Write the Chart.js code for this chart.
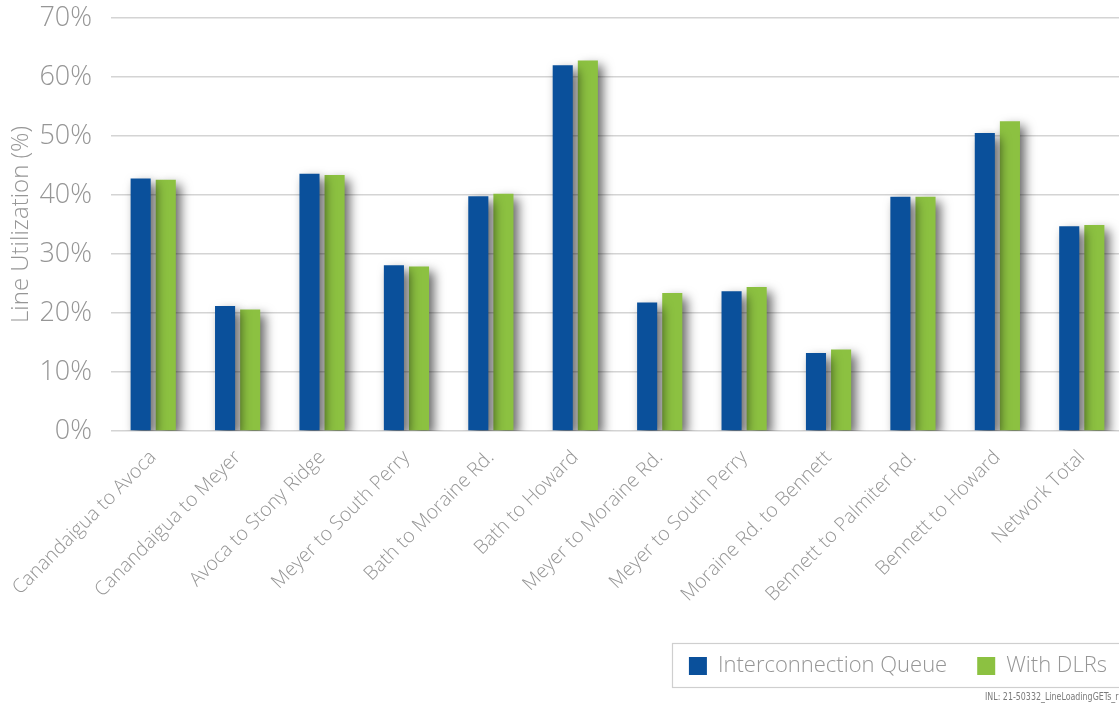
<!DOCTYPE html>
<html>
<head>
<meta charset="utf-8">
<script src="https://cdn.jsdelivr.net/npm/chart.js@4.4.1/dist/chart.umd.min.js"></script>
<style>
  html, body { margin: 0; padding: 0; background: #ffffff; }
  #wrap { position: relative; width: 1119px; height: 707px; overflow: hidden; }
  #c { position: absolute; left: 0; top: 0; }
  #note { position: absolute; left: 985px; top: 690px; font: 11px 'Liberation Sans Narrow', 'DejaVu Sans Condensed', sans-serif; color: #7a7a7a; white-space: nowrap; transform: scaleX(0.8); transform-origin: left top; }
</style>
</head>
<body>
<div id="wrap">
  <canvas id="c" width="1140" height="707"></canvas>
  <div id="note">INL: 21-50332_LineLoadingGETs_r</div>
</div>
<script>
// Transmission line segments
const categories = [
  'Canandaigua to Avoca', 'Canandaigua to Meyer', 'Avoca to Stony Ridge',
  'Meyer to South Perry', 'Bath to Moraine Rd.', 'Bath to Howard',
  'Meyer to Moraine Rd.', 'Meyer to South Perry', 'Moraine Rd. to Bennett',
  'Bennett to Palmiter Rd.', 'Bennett to Howard', 'Network Total'
];

// Line utilization, percent
const interconnectionQueue = [42.8, 21.2, 43.6, 28.1, 39.8, 62.0, 21.8, 23.7, 13.2, 39.7, 50.5, 34.7];
const withDLRs             = [42.6, 20.6, 43.4, 27.9, 40.2, 62.8, 23.4, 24.4, 13.8, 39.7, 52.5, 34.9];

const seriesNames = ['Interconnection Queue', 'With DLRs'];
const yTicks = [0, 10, 20, 30, 40, 50, 60, 70];

const FONT = "'Open Sans', 'Noto Sans', sans-serif";
const GREY = '#969696';

// soft drop shadow behind each bar
const barShadow = {
  id: 'barShadow',
  beforeDatasetDraw(chart) {
    const ctx = chart.ctx;
    ctx.save();
    ctx.shadowColor = 'rgba(0,0,0,0.6)';
    ctx.shadowBlur = 11;
    ctx.shadowOffsetX = 5;
    ctx.shadowOffsetY = 5;
  },
  afterDatasetDraw(chart) {
    chart.ctx.restore();
  }
};

// nudge the legend to the right and frame it
const legendFrame = {
  id: 'legendFrame',
  afterLayout(chart) {
    const lg = chart.legend;
    if (lg) { lg.left += 13; lg.right += 13; }
  },
  afterDraw(chart) {
    const lg = chart.legend;
    if (!lg || !lg.legendHitBoxes.length) return;
    const boxes = lg.legendHitBoxes;
    const left = Math.round(boxes[0].left - 17);
    const top = Math.round(boxes[0].top - 12);
    const right = chart.width + 20;
    const ctx = chart.ctx;
    ctx.save();
    ctx.strokeStyle = '#cfcfcf';
    ctx.lineWidth = 1.2;
    ctx.strokeRect(left + 0.5, top + 0.5, right - left, 44);
    ctx.restore();
  }
};

new Chart(document.getElementById('c'), {
  type: 'bar',
  data: {
    labels: categories,
    datasets: [
      {
        label: seriesNames[0],
        data: interconnectionQueue,
        backgroundColor: '#0a509b',
        borderWidth: 0
      },
      {
        label: seriesNames[1],
        data: withDLRs,
        backgroundColor: '#8cc141',
        borderWidth: 0
      }
    ]
  },
  options: {
    responsive: false,
    animation: false,
    categoryPercentage: 0.595,
    barPercentage: 0.8,
    layout: { padding: { left: 0, right: 16, top: 18, bottom: 20 } },
    plugins: {
      tooltip: { enabled: false },
      legend: {
        position: 'bottom',
        align: 'end',
        labels: {
          boxWidth: 18,
          boxHeight: 18,
          padding: 30,
          color: GREY,
          font: { family: FONT, size: 22, weight: 300 }
        }
      }
    },
    scales: {
      x: {
        grid: { display: false, drawTicks: false },
        border: { display: false },
        ticks: {
          color: GREY,
          minRotation: 45,
          maxRotation: 45,
          padding: 15,
          font: { family: FONT, size: 19.5, weight: 300 }
        },
        afterFit(scale) {
          scale.height = 194;
          scale.paddingLeft = 0;
          scale.paddingRight = 0;
        }
      },
      y: {
        min: 0,
        max: 70,
        afterBuildTicks(scale) { scale.ticks = yTicks.map(v => ({ value: v })); },
        grid: { color: '#d4d4d4', lineWidth: 1.5, drawTicks: false },
        border: { display: false },
        ticks: {
          color: GREY,
          padding: 19,
          font: { family: FONT, size: 27, weight: 300 },
          callback: v => v + '%'
        },
        title: {
          display: true,
          text: 'Line Utilization (%)',
          color: GREY,
          padding: { top: 7, bottom: 0 },
          font: { family: FONT, size: 24, weight: 300 }
        },
        afterFit(scale) {
          scale.width = 111;
          scale.paddingTop = 0;
          scale.paddingBottom = 0;
        }
      }
    }
  },
  plugins: [barShadow, legendFrame]
});
</script>
</body>
</html>
